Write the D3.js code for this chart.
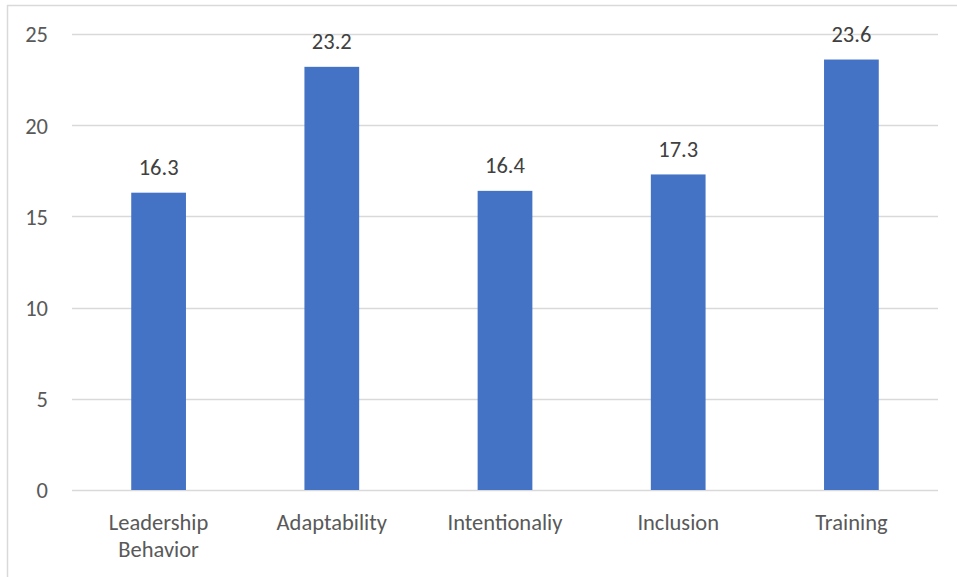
<!DOCTYPE html>
<html><head><meta charset="utf-8">
<script src="https://cdn.jsdelivr.net/npm/d3@7"></script>
<style>
html,body{margin:0;padding:0;background:#fff;}
svg{display:block;font-family:Carlito,Calibri,Lato,sans-serif;}
</style></head>
<body>
<svg id="chart" width="957" height="577"></svg>
<script>
const categories = [["Leadership","Behavior"],["Adaptability"],["Intentionaliy"],["Inclusion"],["Training"]];
const values = [16.3, 23.2, 16.4, 17.3, 23.6];
const yTicks = [0, 5, 10, 15, 20, 25];

const svg = d3.select("#chart");
const W = 957, H = 577;
const m = {left: 72, right: 19, top: 34, bottom: 87};
const FS = "22.5px";

// outer frame (top and left edges visible)
svg.append("line").attr("x1", 7).attr("x2", W).attr("y1", 5.5).attr("y2", 5.5)
  .attr("stroke", "#d9d9d9").attr("stroke-width", 1.5);
svg.append("line").attr("x1", 7.5).attr("x2", 7.5).attr("y1", 5).attr("y2", H)
  .attr("stroke", "#d9d9d9").attr("stroke-width", 1.5);

const x = d3.scaleBand().domain(d3.range(categories.length))
  .range([m.left, W - m.right]).paddingInner(0.684).paddingOuter(0.342);
const y = d3.scaleLinear().domain([0, 25]).range([H - m.bottom, m.top]);

// gridlines
svg.append("g").selectAll("line").data(yTicks).join("line")
  .attr("x1", m.left).attr("x2", W - m.right)
  .attr("y1", d => Math.round(y(d)) + 0.5).attr("y2", d => Math.round(y(d)) + 0.5)
  .attr("stroke", "#d9d9d9").attr("stroke-width", 1.3);

// y axis labels
const yAxis = d3.axisLeft(y).tickValues(yTicks).tickSize(0).tickPadding(0);
const ya = svg.append("g").attr("transform", `translate(48,0)`).call(yAxis);
ya.select(".domain").remove();
ya.selectAll("text").attr("fill", "#595959").style("font-size", FS)
  .style("font-family", "Carlito,Calibri,Lato,sans-serif").attr("dy", "0.35em");

// bars
svg.append("g").selectAll("rect").data(values).join("rect")
  .attr("x", (d, i) => x(i)).attr("width", x.bandwidth())
  .attr("y", d => y(d)).attr("height", d => y(0) - y(d))
  .attr("fill", "#4472C4");

// data labels
svg.append("g").selectAll("text").data(values).join("text")
  .attr("x", (d, i) => x(i) + x.bandwidth() / 2)
  .attr("y", d => y(d) - 17.6)
  .attr("text-anchor", "middle").attr("fill", "#404040")
  .style("font-size", FS).text(d => d.toFixed(1));

// category labels
const cg = svg.append("g").selectAll("text").data(categories).join("text")
  .attr("x", (d, i) => x(i) + x.bandwidth() / 2)
  .attr("y", 530).attr("text-anchor", "middle").attr("fill", "#595959")
  .style("font-size", FS);
cg.selectAll("tspan").data(d => d).join("tspan")
  .attr("x", function() { return this.parentNode.getAttribute("x"); })
  .attr("dy", (d, i) => i === 0 ? 0 : 27).text(d => d);
</script>
</body></html>
